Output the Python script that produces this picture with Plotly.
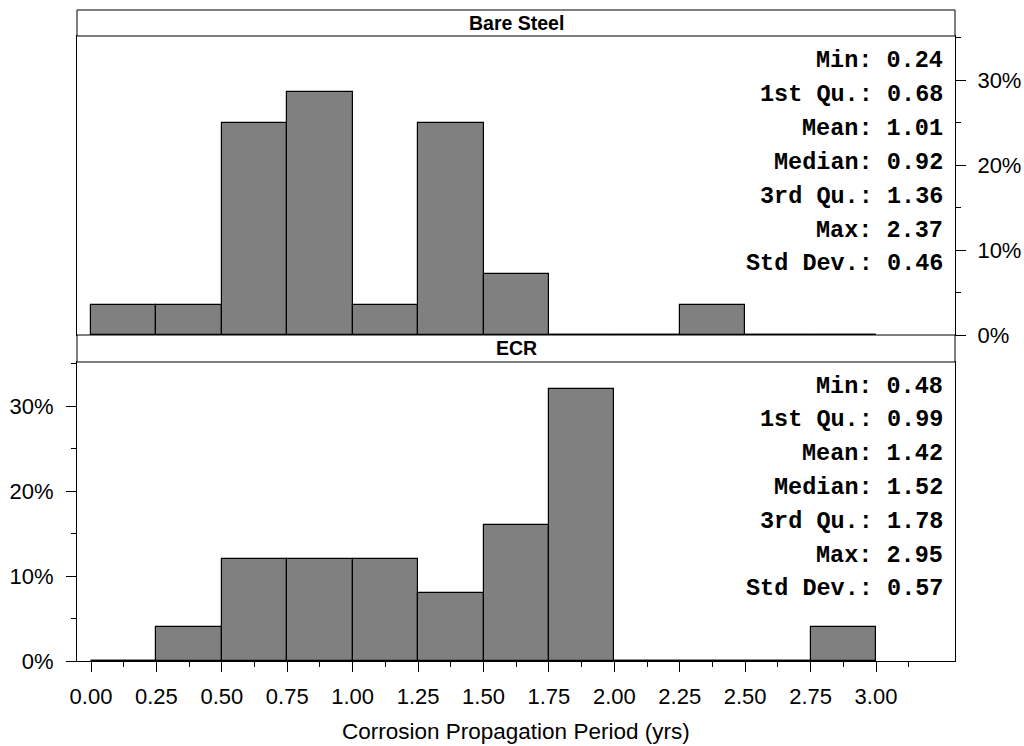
import plotly.graph_objects as go

# ---- data ----
bin_edges = [0.0, 0.25, 0.5, 0.75, 1.0, 1.25, 1.5, 1.75, 2.0, 2.25, 2.5, 2.75, 3.0]
bare_pct = [3.57, 3.57, 25.0, 28.57, 3.57, 25.0, 7.14, 0, 0, 3.57, 0, 0]
ecr_pct = [0, 4.0, 12.0, 12.0, 12.0, 8.0, 16.0, 32.0, 0, 0, 0, 4.0]

stat_names = ["Min:", "1st Qu.:", "Mean:", "Median:", "3rd Qu.:", "Max:", "Std Dev.:"]
bare_stats = ["0.24", "0.68", "1.01", "0.92", "1.36", "2.37", "0.46"]
ecr_stats = ["0.48", "0.99", "1.42", "1.52", "1.78", "2.95", "0.57"]

panel_names = ["Bare Steel", "ECR"]
x_tick_vals = [0.0, 0.25, 0.5, 0.75, 1.0, 1.25, 1.5, 1.75, 2.0, 2.25, 2.5, 2.75, 3.0]
x_tick_text = ["0.00", "0.25", "0.50", "0.75", "1.00", "1.25", "1.50", "1.75",
               "2.00", "2.25", "2.50", "2.75", "3.00"]
x_minor_vals = [0.125, 0.375, 0.625, 0.875, 1.125, 1.375, 1.625, 1.875,
                2.125, 2.375, 2.625, 2.875, 3.125]
y_tick_vals = [0, 10, 20, 30]
y_tick_text = ["0%", "10%", "20%", "30%"]
y_minor_vals = [5, 15, 25, 35]
x_title = "Corrosion Propagation Period (yrs)"

# ---- geometry ----
W, H = 1024, 746
def py(px):
    return 1 - px / H

L, R = 77, 955
top_strip = (10, 36)
top_plot = (36, 335)
bot_strip = (335, 362)
bot_plot = (362, 661)

xscale = (876 - 91) / 3.0
x_range = [(L - 91) / xscale, (R - 91) / xscale]
y_max = (335 - 36) / 8.5

BAR_FILL = "#808080"
FONT = "Liberation Sans, Arial, sans-serif"
MONO = "Courier New, Liberation Mono, monospace"

fig = go.Figure()

centers = [(bin_edges[i] + bin_edges[i + 1]) / 2 for i in range(len(bin_edges) - 1)]
widths = [bin_edges[i + 1] - bin_edges[i] for i in range(len(bin_edges) - 1)]

def add_hist(vals, xa, ya):
    fig.add_trace(go.Bar(x=centers, y=vals, width=widths, xaxis=xa, yaxis=ya,
                         marker=dict(color=BAR_FILL, line=dict(color="black", width=1.2)),
                         showlegend=False, hoverinfo="skip"))
    zx, zy = [], []
    for i, v in enumerate(vals):
        if v == 0:
            zx += [bin_edges[i], bin_edges[i + 1], None]
            zy += [0, 0, None]
    fig.add_trace(go.Scatter(x=zx, y=zy, mode="lines", xaxis=xa, yaxis=ya,
                             line=dict(color="black", width=2.4),
                             showlegend=False, hoverinfo="skip"))

add_hist(bare_pct, "x2", "y2")
add_hist(ecr_pct, "x", "y")

common_axis = dict(showline=True, mirror=True, linecolor="black", linewidth=1,
                   showgrid=False, zeroline=False, automargin=False)
tickfont = dict(family=FONT, size=22, color="black")

fig.update_layout(
    width=W, height=H,
    margin=dict(l=0, r=0, t=0, b=0, autoexpand=False),
    paper_bgcolor="white", plot_bgcolor="white",
    bargap=0,
    xaxis=dict(domain=[L / W, R / W], range=x_range, anchor="y",
               tickmode="array", tickvals=x_tick_vals, ticktext=x_tick_text,
               ticks="outside", ticklen=10, tickcolor="black", tickwidth=1,
               ticklabelstandoff=6,
               minor=dict(tickmode="array", tickvals=x_minor_vals, ticks="outside",
                          ticklen=5, tickcolor="black", tickwidth=1),
               tickfont=tickfont, **common_axis),
    xaxis2=dict(domain=[L / W, R / W], range=x_range, anchor="y2", matches="x",
                showticklabels=False, ticks="", **common_axis),
    yaxis=dict(domain=[py(bot_plot[1]), py(bot_plot[0])], range=[0, y_max], anchor="x",
               side="left", tickmode="array", tickvals=y_tick_vals, ticktext=y_tick_text,
               ticks="outside", ticklen=10, tickcolor="black", tickwidth=1,
               ticklabelstandoff=8,
               minor=dict(tickmode="array", tickvals=y_minor_vals, ticks="outside",
                          ticklen=5, tickcolor="black", tickwidth=1),
               tickfont=tickfont, **common_axis),
    yaxis2=dict(domain=[py(top_plot[1]), py(top_plot[0])], range=[0, y_max], anchor="x2",
                side="right", tickmode="array", tickvals=y_tick_vals, ticktext=y_tick_text,
                ticks="outside", ticklen=10, tickcolor="black", tickwidth=1,
                ticklabelstandoff=7,
                minor=dict(tickmode="array", tickvals=y_minor_vals, ticks="outside",
                           ticklen=5, tickcolor="black", tickwidth=1),
                tickfont=tickfont, **common_axis),
)

# strips
for (t, b), name in zip([top_strip, bot_strip], panel_names):
    fig.add_shape(type="rect", xref="paper", yref="paper",
                  x0=L / W, x1=R / W, y0=py(b), y1=py(t),
                  line=dict(color="black", width=1), fillcolor="white", layer="above")
    fig.add_annotation(x=(L + R) / 2 / W, y=py((t + b) / 2), xref="paper", yref="paper",
                       text="<b>" + name + "</b>", showarrow=False,
                       xanchor="center", yanchor="middle",
                       font=dict(family=FONT, size=19.5, color="black"))

# stats
for top0, vals in [(61, bare_stats), (386, ecr_stats)]:
    for i, (nm, v) in enumerate(zip(stat_names, vals)):
        fig.add_annotation(x=945 / W, y=py(top0 + 33.8 * i), xref="paper", yref="paper",
                           text="<b>" + nm + " " + v + "</b>", showarrow=False,
                           xanchor="right", yanchor="middle",
                           font=dict(family=MONO, size=23.5, color="black"))

fig.add_annotation(x=(L + R) / 2 / W, y=py(731), xref="paper", yref="paper",
                   text=x_title, showarrow=False, xanchor="center", yanchor="middle",
                   font=dict(family=FONT, size=22.5, color="black"))

fig.write_html("out.html")
